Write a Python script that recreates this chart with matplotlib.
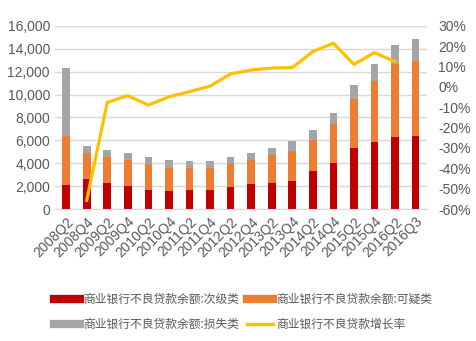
import numpy as np
import matplotlib.pyplot as plt
from matplotlib.lines import Line2D
from matplotlib.ticker import FuncFormatter

plt.rcParams['font.family'] = ['Liberation Sans Narrow', 'Liberation Sans', 'Noto Sans CJK SC', 'DejaVu Sans']

quarters = ['2008Q2', '2008Q4', '2009Q2', '2009Q4', '2010Q2', '2010Q4', '2011Q2', '2011Q4',
            '2012Q2', '2012Q4', '2013Q2', '2013Q4', '2014Q2', '2014Q4', '2015Q2', '2015Q4',
            '2016Q2', '2016Q3']
# 亿元
substandard = [2130, 2600, 2280, 1990, 1640, 1580, 1640, 1660, 1900, 2160, 2310, 2480,
               3330, 4030, 5290, 5900, 6310, 6370]
doubtful = [4260, 2330, 2300, 2280, 2280, 2040, 1920, 1930, 2010, 2100, 2420, 2600,
            2720, 3360, 4350, 5280, 6360, 6600]
loss = [5960, 590, 560, 640, 610, 640, 610, 640, 610, 610, 640, 850,
        850, 990, 1230, 1520, 1640, 1900]
# % , 2008Q4 .. 2016Q2
growth = [-55.7, -7.6, -4.3, -8.9, -4.8, -2.3, 0.4, 6.4, 8.3, 9.3, 9.5,
          17.4, 21.5, 11.1, 16.9, 12.4]

red = '#C00000'
orange = '#ED7D31'
gray = '#A5A5A5'
yellow = '#FFC000'

x = np.arange(len(quarters))
sub = np.array(substandard)
dou = np.array(doubtful)
los = np.array(loss)

fig = plt.figure(figsize=(4.77, 3.41), dpi=100)
ax = fig.add_axes([0.115, 0.387, 0.78, 0.537])

w = 0.37
ax.bar(x, sub, w, color=red, zorder=2)
ax.bar(x, dou, w, bottom=sub, color=orange, zorder=2)
ax.bar(x, los, w, bottom=sub + dou, color=gray, zorder=2)

ax.set_ylim(0, 16000)
ax.set_yticks(range(0, 16001, 2000))
ax.yaxis.set_major_formatter(FuncFormatter(lambda v, p: f'{int(v):,}'))
ax.grid(axis='y', color='#D9D9D9', linewidth=1, zorder=0)
ax.set_xlim(-0.55, len(quarters) - 0.45)
ax.set_xticks(x)
ax.set_xticklabels(quarters, rotation=45, ha='right', rotation_mode='anchor')
for s in ['top', 'right', 'left']:
    ax.spines[s].set_visible(False)
ax.spines['bottom'].set_color('#D9D9D9')
ax.tick_params(length=0, labelsize=10, colors='#595959')
ax.tick_params(axis='x', pad=4)

ax2 = ax.twinx()
ax2.plot(x[1:len(growth) + 1], growth, color=yellow, linewidth=2.3, zorder=3)
ax2.set_ylim(-60, 30)
ax2.set_yticks(range(-60, 31, 10))
ax2.yaxis.set_major_formatter(FuncFormatter(lambda v, p: f'{int(v)}%'))
for s in ax2.spines.values():
    s.set_visible(False)
ax2.tick_params(length=0, labelsize=10, colors='#595959', pad=8)

handles = [Line2D([], [], color=red, linewidth=6),
           Line2D([], [], color=gray, linewidth=6),
           Line2D([], [], color=orange, linewidth=6),
           Line2D([], [], color=yellow, linewidth=2.5)]
labels = ['商业银行不良贷款余额:次级类', '商业银行不良贷款余额:损失类',
          '商业银行不良贷款余额:可疑类', '商业银行不良贷款增长率']
fig.legend(handles, labels, ncol=2, loc='center', bbox_to_anchor=(0.51, 0.085),
           frameon=False, handlelength=2.2, handletextpad=0.3, columnspacing=0.6,
           labelspacing=1.0, prop={'family': ['Noto Sans CJK SC', 'DejaVu Sans'], 'size': 8.5},
           labelcolor='#595959')

fig.savefig('out.png', dpi=100)
